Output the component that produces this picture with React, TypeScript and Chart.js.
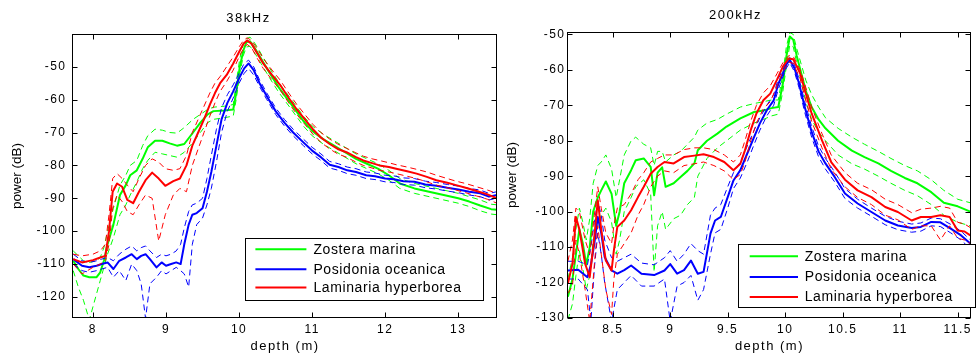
import React, { useEffect, useRef } from "react";
import { Chart, registerables } from "chart.js";

Chart.register(...registerables);

const FONT = '"Liberation Sans", Arial, Helvetica, sans-serif';
Chart.defaults.font.family = FONT;
Chart.defaults.color = "#000";

// ---------- labels / ticks ----------
const speciesNames = ["Zostera marina", "Posidonia oceanica", "Laminaria hyperborea"];
const speciesColors = ["#00ff00", "#0000ff", "#ff0000"];
const xTitle = "depth (m)";
const yTitle = "power (dB)";
const title38 = "38kHz";
const title200 = "200kHz";
const x38Ticks = [8, 9, 10, 11, 12, 13];
const y38Ticks = [-120, -110, -100, -90, -80, -70, -60, -50];
const x200Ticks = [8.5, 9, 9.5, 10, 10.5, 11, 11.5];
const y200Ticks = [-130, -120, -110, -100, -90, -80, -70, -60, -50];

// ---------- 38 kHz : Zostera marina ----------
const z38Depth = [7.73, 7.8, 7.87, 7.95, 8.05, 8.1, 8.15, 8.2, 8.28, 8.37, 8.45, 8.51, 8.6, 8.68, 8.75, 8.85, 8.95, 9.05, 9.15, 9.25, 9.37, 9.47, 9.57, 9.65, 9.8, 9.92, 9.96, 10.01, 10.06, 10.1, 10.15, 10.22, 10.3, 10.42, 10.55, 10.7, 10.88, 11.0, 11.15, 11.3, 11.45, 11.6, 11.75, 11.9, 12.05, 12.2, 12.4, 12.6, 12.8, 13.0, 13.15, 13.3, 13.45, 13.53];
const z38Mean = [-109, -111.5, -113.5, -114, -114, -112.5, -109, -104, -98, -89, -86, -83, -81.5, -78, -74.5, -72.5, -72.5, -73.3, -74, -73.5, -70, -67, -64.5, -63.5, -63.3, -63, -58, -50, -45, -42.5, -42.3, -44.5, -47.5, -52, -56.5, -61, -66.5, -69.5, -72, -74, -76, -78, -79.5, -81, -83, -85.5, -87, -88, -89, -90, -91, -92.2, -93.3, -93.5];
const z38Hi = [-106, -107.5, -109, -109.5, -109, -108, -105, -100, -93, -86, -83, -80, -78.5, -74, -71, -69, -69.3, -70, -70.2, -68.5, -66, -64.5, -63, -62.3, -62, -61.5, -55, -47.5, -43, -41.5, -41, -43, -46, -50.5, -55, -59.5, -65, -68, -70.5, -72.5, -74.5, -76.5, -78, -79.5, -81.5, -84, -85.5, -86.5, -87.5, -88.5, -89.5, -90.5, -91.8, -92];
const z38Lo = [-112, -117, -121, -127, -119, -115, -111, -107, -102, -95, -92, -89, -85, -81, -78.5, -76, -76.5, -77, -77.5, -76, -73, -70, -67, -66, -65.5, -65, -60, -52, -46.5, -44, -43.8, -46, -49, -53.5, -58, -62.5, -68, -71, -73.5, -75.5, -77.5, -79.5, -81, -82.5, -84.5, -87, -88.5, -89.5, -90.5, -91.5, -92.5, -93.8, -94.8, -95];

// ---------- 38 kHz : Posidonia oceanica ----------
const p38Depth = [7.73, 7.85, 7.95, 8.05, 8.12, 8.2, 8.28, 8.36, 8.45, 8.53, 8.6, 8.66, 8.72, 8.78, 8.87, 8.94, 9.0, 9.07, 9.14, 9.2, 9.25, 9.31, 9.36, 9.42, 9.5, 9.56, 9.62, 9.69, 9.76, 9.84, 9.92, 10.0, 10.07, 10.13, 10.2, 10.28, 10.38, 10.5, 10.62, 10.74, 10.88, 11.0, 11.12, 11.24, 11.36, 11.48, 11.6, 11.74, 11.86, 12.0, 12.12, 12.25, 12.4, 12.55, 12.7, 12.85, 13.0, 13.15, 13.3, 13.42, 13.53];
const p38Mean = [-108.5, -110.5, -111, -110.5, -110, -109.5, -111.5, -109, -108, -107, -108.5, -107.5, -107, -108.5, -111, -109.5, -110.5, -110, -109.5, -110, -104, -98, -95, -94.5, -93, -88, -82, -74, -66, -61, -57.5, -53.5, -50.5, -49, -51, -55, -59, -63.5, -67, -70, -73, -75.5, -77.5, -79.8, -80.5, -81.5, -82, -83, -83.3, -84, -84.2, -84.8, -85, -85.8, -86.2, -86.8, -87.3, -88, -88.5, -89.5, -89];
const p38Hi = [-107, -109, -109.5, -109, -108.5, -108, -109, -107, -105.5, -104.5, -106, -105, -104.5, -106, -108, -107, -107.5, -107, -106, -104, -99, -94, -92, -91.5, -90, -84, -77, -69, -62.5, -58.5, -55.5, -52, -49, -48, -50, -54, -58, -62.5, -66, -69, -72, -74.5, -76.5, -78.8, -79.5, -80.5, -81, -82, -82.3, -83, -83.2, -83.8, -84, -84.8, -85.2, -85.8, -86.3, -87, -87.5, -88.5, -88];
const p38Lo = [-110, -112, -112.5, -112, -111.5, -111, -114, -112, -115, -110, -112, -116, -126.5, -116, -114, -112, -113, -112, -111, -112, -113, -117, -104, -98, -96, -92, -87, -79, -70, -63.5, -59.5, -55, -52, -50.5, -52.5, -56, -60, -64.5, -68, -71, -74, -76.5, -78.5, -80.8, -81.5, -82.5, -83, -84, -84.3, -85, -85.2, -85.8, -86, -86.8, -87.2, -87.8, -88.3, -89, -89.5, -90.5, -90];

// ---------- 38 kHz : Laminaria hyperborea ----------
const l38Depth = [7.73, 7.85, 8.0, 8.1, 8.17, 8.22, 8.27, 8.33, 8.4, 8.47, 8.55, 8.63, 8.72, 8.81, 8.9, 8.99, 9.1, 9.19, 9.28, 9.36, 9.44, 9.52, 9.6, 9.67, 9.74, 9.83, 9.92, 10.0, 10.06, 10.11, 10.17, 10.25, 10.33, 10.45, 10.56, 10.68, 10.79, 10.9, 11.01, 11.12, 11.24, 11.35, 11.47, 11.6, 11.7, 11.82, 11.92, 12.05, 12.15, 12.3, 12.43, 12.57, 12.7, 12.85, 12.97, 13.1, 13.25, 13.4, 13.53];
const l38Mean = [-108.5, -109.5, -108.8, -108, -107.5, -100, -88, -85.5, -86.5, -90.5, -91.5, -88, -84.5, -82.2, -84, -86.2, -84.8, -84, -80, -74, -70, -66, -61.5, -58, -55, -52.5, -49, -45.5, -43, -42, -43, -46, -49, -52.5, -55.5, -59.5, -63, -66, -69, -71.5, -73.5, -75, -76, -77.5, -78.5, -79.3, -80, -80.5, -81, -81.8, -82.5, -83.5, -84.5, -85.3, -86, -86.8, -87.8, -88.8, -90];
const l38Hi = [-107, -107.5, -107, -106, -104, -95, -84, -82.5, -84, -86, -88, -84, -80, -78, -79, -81, -81.5, -81, -77, -70, -66, -62, -58, -55, -53, -50, -47, -44, -42, -41.2, -42, -44.5, -47.5, -51, -54, -58, -61.5, -64.5, -67.5, -70, -72, -73.5, -74.8, -76.2, -77.2, -78, -78.5, -79.2, -79.8, -80.5, -81.2, -82, -83, -84, -84.8, -85.5, -86.5, -87.5, -88.5];
const l38Lo = [-110, -113, -111, -110, -109, -104, -93, -89, -91, -94, -95, -92, -89, -90, -103, -95, -89, -87, -88, -80, -75, -70, -65, -61, -57.5, -54.5, -51, -47, -44.5, -43.2, -44.2, -47.5, -50.5, -54, -57, -61, -64.5, -67.5, -70.5, -73, -75, -76.5, -77.5, -79, -80, -80.8, -81.5, -82, -82.5, -83.3, -84, -85, -86, -86.8, -87.5, -88.3, -89.3, -90.3, -91.5];

// ---------- 200 kHz : Zostera marina ----------
const z200Depth = [8.11, 8.15, 8.18, 8.21, 8.24, 8.27, 8.3, 8.33, 8.37, 8.4, 8.44, 8.49, 8.53, 8.56, 8.6, 8.66, 8.7, 8.77, 8.83, 8.86, 8.89, 8.93, 8.96, 9.03, 9.09, 9.15, 9.21, 9.24, 9.32, 9.41, 9.49, 9.61, 9.73, 9.81, 9.88, 9.94, 9.98, 10.01, 10.04, 10.07, 10.1, 10.14, 10.18, 10.23, 10.29, 10.35, 10.46, 10.58, 10.69, 10.81, 10.92, 11.04, 11.15, 11.27, 11.38, 11.5, 11.61];
const z200Mean = [-124, -119, -112, -105, -109, -115, -110, -100, -96, -94, -91.5, -95, -104, -100, -92, -88.3, -85.5, -85, -87.4, -95.4, -89, -87.5, -93, -92, -90.2, -88.5, -86.4, -82.7, -80, -78, -76, -73.7, -71.9, -71.5, -70.8, -70.5, -63.8, -56.3, -50.6, -51.5, -56, -61, -66, -70.5, -74, -76.5, -80, -82.8, -84.6, -86.4, -88.5, -90.5, -92, -94.5, -97.5, -98.5, -100];
const z200Hi = [-119, -113, -105, -99, -103, -108, -102, -92, -87, -86, -84, -88, -96, -91, -84, -80, -79, -81, -82, -87, -83, -83, -86, -84, -83, -81, -79, -77, -75, -74, -72.5, -70.5, -69.5, -69, -68.5, -68.5, -61, -53.5, -49.5, -50, -54, -58.5, -63, -67, -70.5, -73.5, -76.5, -79, -81, -83, -85, -87, -88.5, -91, -94, -96.5, -97.5];
const z200Lo = [-130.5, -126, -118, -111, -116, -122, -118, -108, -104, -101, -99, -103, -112, -108, -100, -96, -93, -91, -95, -117, -104, -100, -105, -102, -101, -98, -96, -90, -85, -82, -80, -77, -75, -74, -73, -72.5, -66, -59, -53, -53.5, -58, -63.5, -69, -74, -77.5, -80, -84, -86.5, -88, -90, -92, -94, -95.5, -98, -101, -103, -104];

// ---------- 200 kHz : Posidonia oceanica ----------
const p200Depth = [8.11, 8.2, 8.28, 8.31, 8.34, 8.37, 8.4, 8.43, 8.49, 8.54, 8.6, 8.66, 8.75, 8.86, 8.95, 9.0, 9.06, 9.12, 9.18, 9.24, 9.29, 9.35, 9.39, 9.44, 9.5, 9.55, 9.61, 9.67, 9.73, 9.78, 9.84, 9.9, 9.94, 9.98, 10.01, 10.04, 10.08, 10.12, 10.17, 10.23, 10.29, 10.35, 10.43, 10.52, 10.63, 10.75, 10.87, 10.98, 11.1, 11.18, 11.27, 11.35, 11.44, 11.53, 11.61];
const p200Mean = [-116.6, -116.4, -118.5, -115, -109, -101.5, -106, -112.8, -116.6, -117.5, -116.5, -115.2, -117.5, -117.9, -116.6, -114.8, -117.5, -116.5, -113.8, -117.5, -117, -106.2, -102.5, -101.5, -95.9, -91.2, -88.3, -83.6, -78.9, -75.1, -71.4, -68.6, -64, -61, -58.5, -57.2, -59.5, -63.8, -70.5, -77.5, -83, -86.4, -90.2, -94.9, -97.7, -100.1, -102.5, -103.9, -104.6, -104.3, -102.9, -103, -104.8, -106.7, -109];
const p200Hi = [-114, -114, -115, -110, -103, -97, -101, -108, -113, -114, -113, -112, -114.5, -115, -113, -111, -114, -112, -109, -111, -112, -101, -99, -98, -93, -89, -86, -81.5, -77, -73.5, -70, -67, -62.5, -60, -57.5, -56.5, -58.5, -62.5, -69, -76, -81.5, -85, -88.8, -93.5, -96.5, -99, -101.3, -102.7, -103.5, -103.2, -101.8, -102, -103.6, -105.5, -108];
const p200Lo = [-119, -119, -122, -131, -116, -106, -112, -120, -131, -122, -120, -118, -121, -121, -119, -131, -121, -120, -118, -125, -122, -112, -106, -105, -99, -93.5, -90.5, -86, -81, -77, -73, -70, -65.5, -62, -59.5, -58, -60.5, -65, -72, -79, -84.5, -88, -91.6, -96.3, -99, -101.3, -103.7, -105.1, -105.8, -105.5, -104, -104.2, -106, -108, -110.5];

// ---------- 200 kHz : Laminaria hyperborea ----------
const l200Depth = [8.11, 8.15, 8.18, 8.21, 8.26, 8.3, 8.34, 8.37, 8.4, 8.44, 8.49, 8.51, 8.54, 8.6, 8.66, 8.72, 8.77, 8.83, 8.89, 8.95, 9.03, 9.12, 9.21, 9.29, 9.38, 9.47, 9.55, 9.61, 9.65, 9.7, 9.75, 9.81, 9.87, 9.93, 9.98, 10.03, 10.07, 10.13, 10.17, 10.23, 10.32, 10.4, 10.52, 10.63, 10.75, 10.87, 10.98, 11.1, 11.18, 11.27, 11.35, 11.43, 11.5, 11.56, 11.61];
const l200Mean = [-120.3, -114.7, -101.5, -105, -114.7, -118.5, -107.2, -96.8, -105, -113.8, -116.6, -110.9, -104.3, -102.5, -99.6, -95.9, -93, -89.3, -87.4, -86, -86.4, -84.6, -84.2, -83.8, -84.6, -86, -88.3, -86.5, -82.7, -77, -72.3, -68.6, -66.7, -62.7, -59.1, -56.8, -57, -61, -65.7, -72.3, -79.9, -86, -91, -94, -95.9, -98.7, -100.1, -102.5, -101.5, -101.5, -101, -101.5, -105.3, -105.6, -106.7];
const l200Hi = [-114, -108, -99, -100, -108, -112, -101, -93, -99, -106, -109, -104, -99, -98, -95, -91, -89, -86, -85, -84, -84, -82.5, -82, -82, -82.5, -84, -86, -84, -80, -74.5, -70, -66.5, -64.5, -61, -58, -56, -56.2, -60, -64, -70.5, -78, -84, -89, -92, -93.8, -96.5, -98, -100.3, -99.3, -99, -98.5, -99, -103, -103.5, -104.5];
const l200Lo = [-123, -121, -108, -112, -122, -131, -115, -104, -112, -122, -129, -119, -112, -109, -106, -101, -98, -93, -90, -88.5, -89, -87, -86.5, -86, -87, -88.5, -91, -89.5, -86, -80, -75, -71, -69, -64.5, -60.5, -57.8, -58.2, -62.5, -67.5, -74.5, -82, -88, -93, -96, -98, -101, -102.3, -105, -104, -104, -108, -104, -107.5, -108, -109];

// ---------- helpers ----------
const pts = (xs: number[], ys: number[]) => xs.map((x, i) => ({ x, y: ys[i] }));

type Series = { depth: number[]; mean: number[]; hi: number[]; lo: number[]; color: string };

function seriesDatasets(s: Series) {
  const base = {
    type: "line",
    pointRadius: 0,
    fill: false,
    tension: 0,
    clip: 0,
    borderJoinStyle: "round",
    borderColor: s.color,
  };
  return [
    { ...base, data: pts(s.depth, s.mean), borderWidth: 2 },
    { ...base, data: pts(s.depth, s.hi), borderWidth: 1, borderDash: [6, 4] },
    { ...base, data: pts(s.depth, s.lo), borderWidth: 1, borderDash: [6, 4] },
  ];
}

const TEXT_SPACING = "1.5px";

const matlabAxes = {
  id: "matlabAxes",
  beforeUpdate(chart: any) {
    chart.ctx.letterSpacing = TEXT_SPACING;
  },
  beforeDraw(chart: any) {
    chart.ctx.letterSpacing = TEXT_SPACING;
  },
  afterDraw(chart: any, _args: any, opts: any) {
    const { ctx, chartArea: a, scales } = chart;
    ctx.save();
    ctx.strokeStyle = "#000";
    ctx.lineWidth = 1;
    const tl = 5;
    const L = Math.round(a.left) - 0.5;
    const R = Math.round(a.right) - 0.5;
    const T = Math.round(a.top) + 0.5;
    const B = Math.round(a.bottom) - 0.5;
    ctx.beginPath();
    for (const t of scales.x.ticks) {
      const px = Math.round(scales.x.getPixelForValue(t.value)) + 0.5;
      ctx.moveTo(px, B);
      ctx.lineTo(px, B - tl);
      ctx.moveTo(px, T);
      ctx.lineTo(px, T + tl);
    }
    for (const t of scales.y.ticks) {
      const py = Math.round(scales.y.getPixelForValue(t.value)) + 0.5;
      ctx.moveTo(L, py);
      ctx.lineTo(L + tl, py);
      ctx.moveTo(R, py);
      ctx.lineTo(R - tl, py);
    }
    ctx.stroke();
    ctx.strokeRect(L, T, R - L, B - T);

    // y-axis title (vertical text)
    if (opts && opts.yTitleX != null) {
      ctx.save();
      ctx.letterSpacing = "0px";
      ctx.font = `13.5px ${FONT}`;
      ctx.fillStyle = "#000";
      ctx.textAlign = "center";
      ctx.textBaseline = "middle";
      ctx.translate(opts.yTitleX, (a.top + a.bottom) / 2);
      ctx.rotate(-Math.PI / 2);
      ctx.fillText(yTitle, 0, 0);
      ctx.restore();
    }

    const lg = opts && opts.legend;
    if (lg) {
      const bx = lg.fromRight != null ? a.right - lg.fromRight - lg.w : a.left + lg.fromLeft;
      const by = a.bottom - lg.fromBottom - lg.h;
      const x0 = Math.round(bx) + 0.5;
      const y0 = Math.round(by) + 0.5;
      ctx.fillStyle = "#fff";
      ctx.fillRect(x0, y0, Math.round(lg.w), Math.round(lg.h));
      ctx.strokeStyle = "#000";
      ctx.lineWidth = 1;
      ctx.strokeRect(x0, y0, Math.round(lg.w), Math.round(lg.h));
      ctx.font = `14px ${FONT}`;
      ctx.letterSpacing = "0.6px";
      ctx.textBaseline = "middle";
      ctx.textAlign = "left";
      speciesNames.forEach((name, i) => {
        const ry = by + lg.rows[i];
        ctx.strokeStyle = speciesColors[i];
        ctx.lineWidth = 2;
        ctx.beginPath();
        ctx.moveTo(bx + lg.lineX, ry);
        ctx.lineTo(bx + lg.lineX + lg.lineLen, ry);
        ctx.stroke();
        ctx.fillStyle = "#000";
        ctx.fillText(name, bx + lg.textX, ry + 0.5);
      });
    }
    ctx.restore();
  },
};

type Cfg = {
  title: string;
  titlePad: { top: number; bottom: number };
  xMin: number;
  xMax: number;
  xTicks: number[];
  yMin: number;
  yMax: number;
  yTicks: number[];
  yWidth: number;
  yTickPad: number;
  yTitleX: number;
  rightPad: number;
  series: Series[];
  legend: any;
};

function buildConfig(p: Cfg): any {
  const datasets: any[] = [];
  p.series.forEach((s) => datasets.push(...seriesDatasets(s)));
  return {
    type: "line",
    data: { datasets },
    plugins: [matlabAxes],
    options: {
      responsive: false,
      animation: false,
      events: [],
      devicePixelRatio: 1,
      layout: { padding: { left: 0, right: p.rightPad, top: 0, bottom: 0 }, autoPadding: false },
      plugins: {
        legend: { display: false },
        tooltip: { enabled: false },
        title: {
          display: true,
          text: p.title,
          color: "#000",
          font: { size: 13, weight: "normal", family: FONT, lineHeight: 1.2 },
          padding: p.titlePad,
        },
        matlabAxes: { legend: p.legend, yTitleX: p.yTitleX },
      },
      scales: {
        x: {
          type: "linear",
          min: p.xMin,
          max: p.xMax,
          afterBuildTicks: (s: any) => {
            s.ticks = p.xTicks.map((v) => ({ value: v }));
          },
          afterFit: (s: any) => {
            s.height = 38;
          },
          grid: { display: false, drawTicks: false },
          border: { display: false },
          ticks: {
            color: "#000",
            font: { size: 12, family: FONT },
            padding: 4,
            autoSkip: false,
            maxRotation: 0,
            callback: (v: any) => String(v),
          },
          title: {
            display: true,
            text: xTitle,
            color: "#000",
            font: { size: 13, family: FONT },
            padding: { top: 0, bottom: 2 },
          },
        },
        y: {
          type: "linear",
          min: p.yMin,
          max: p.yMax,
          afterBuildTicks: (s: any) => {
            s.ticks = p.yTicks.map((v) => ({ value: v }));
          },
          afterFit: (s: any) => {
            s.width = p.yWidth;
          },
          grid: { display: false, drawTicks: false },
          border: { display: false },
          ticks: {
            color: "#000",
            font: { size: 12, family: FONT },
            padding: p.yTickPad,
            autoSkip: false,
            callback: (v: any) => String(v),
          },
          title: { display: false },
        },
      },
    },
  };
}

const config38 = () =>
  buildConfig({
    title: title38,
    titlePad: { top: 10.5, bottom: 7.9 },
    xMin: 7.727,
    xMax: 13.53,
    xTicks: x38Ticks,
    yMin: -126.4,
    yMax: -40.05,
    yTicks: y38Ticks,
    yWidth: 73,
    yTickPad: 6.5,
    yTitleX: 17,
    rightPad: 1,
    series: [
      { depth: l38Depth, mean: l38Mean, hi: l38Hi, lo: l38Lo, color: speciesColors[2] },
      { depth: p38Depth, mean: p38Mean, hi: p38Hi, lo: p38Lo, color: speciesColors[1] },
      { depth: z38Depth, mean: z38Mean, hi: z38Hi, lo: z38Lo, color: speciesColors[0] },
    ],
    legend: { fromRight: 14.3, fromBottom: 18.4, w: 238, h: 62, rows: [11.7, 31.7, 50], lineX: 10.7, lineLen: 51, textX: 68.7 },
  });

const config200 = () =>
  buildConfig({
    title: title200,
    titlePad: { top: 7.2, bottom: 9 },
    xMin: 8.111,
    xMax: 11.615,
    xTicks: x200Ticks,
    yMin: -130,
    yMax: -49.27,
    yTicks: y200Ticks,
    yWidth: 70,
    yTickPad: 2.5,
    yTitleX: 14.5,
    rightPad: 3,
    series: [
      { depth: l200Depth, mean: l200Mean, hi: l200Hi, lo: l200Lo, color: speciesColors[2] },
      { depth: p200Depth, mean: p200Mean, hi: p200Hi, lo: p200Lo, color: speciesColors[1] },
      { depth: z200Depth, mean: z200Mean, hi: z200Hi, lo: z200Lo, color: speciesColors[0] },
    ],
    legend: { fromLeft: 170, fromBottom: 10.4, w: 236.7, h: 63.3, rows: [12, 32.7, 52.7], lineX: 11.7, lineLen: 48.3, textX: 66.7 },
  });

function ChartCanvas({ make, left, width }: { make: () => any; left: number; width: number }) {
  const ref = useRef<HTMLCanvasElement>(null);
  useEffect(() => {
    const chart = new Chart(ref.current as HTMLCanvasElement, make());
    return () => chart.destroy();
  }, []);
  return (
    <canvas
      ref={ref}
      width={width}
      height={356}
      style={{ position: "absolute", left, top: 0, width, height: 356 }}
    />
  );
}

export default function App() {
  return (
    <div style={{ position: "fixed", left: 0, top: 0, width: 976, height: 356, background: "#fff", overflow: "hidden" }}>
      <ChartCanvas make={config38} left={0} width={498} />
      <ChartCanvas make={config200} left={498} width={478} />
    </div>
  );
}
